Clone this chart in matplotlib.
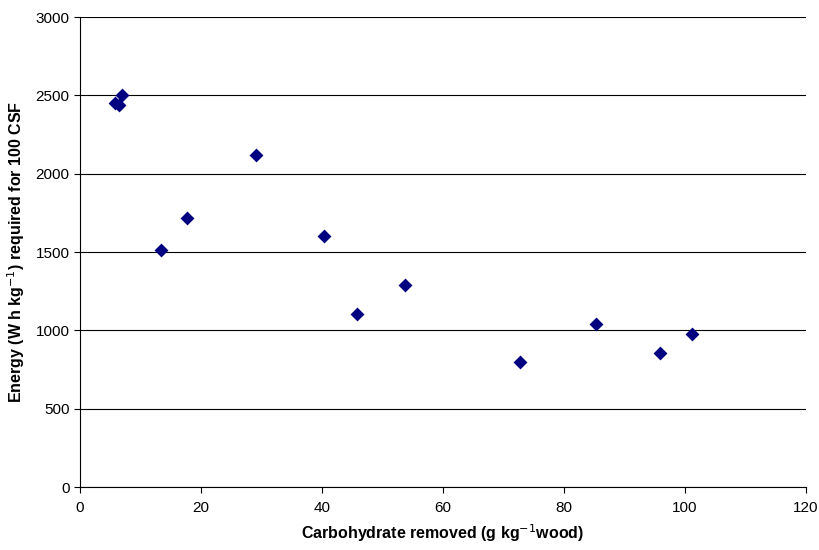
import matplotlib.pyplot as plt

# Carbohydrate removed vs energy for 100 CSF
carb_removed = [5.8, 6.4, 7.0, 13.4, 17.7, 29.1, 40.3, 45.8, 53.7, 72.7, 85.3, 95.9, 101.2]
energy = [2450, 2438, 2505, 1513, 1717, 2117, 1602, 1105, 1289, 800, 1040, 858, 975]

plt.rcParams['font.family'] = ['Liberation Sans', 'DejaVu Sans']

fig = plt.figure(figsize=(8.2, 5.5), dpi=100)
ax = fig.add_axes([0.0976, 0.1145, 0.8854, 0.8545])

ax.scatter(carb_removed, energy, marker='D', s=50, color='#000080', zorder=3, linewidths=0)

ax.set_xlim(0, 120)
ax.set_ylim(0, 3000)
ax.set_xticks(range(0, 121, 20))
ax.set_yticks(range(0, 3001, 500))
ax.yaxis.grid(True, color='black', linewidth=0.8)
ax.set_axisbelow(True)
for s in ['top', 'right']:
    ax.spines[s].set_visible(False)
ax.tick_params(axis='both', labelsize=11, direction='out', length=4)
ax.tick_params(axis='x', pad=6)

ax.set_xlabel('Carbohydrate removed (g kg$^{-1}$wood)', fontsize=11.5, fontweight='bold', labelpad=5)
ax.set_ylabel('Energy (W h kg$^{-1}$) required for 100 CSF', fontsize=11.5, fontweight='bold', labelpad=6)

fig.savefig('out.png', dpi=100)
